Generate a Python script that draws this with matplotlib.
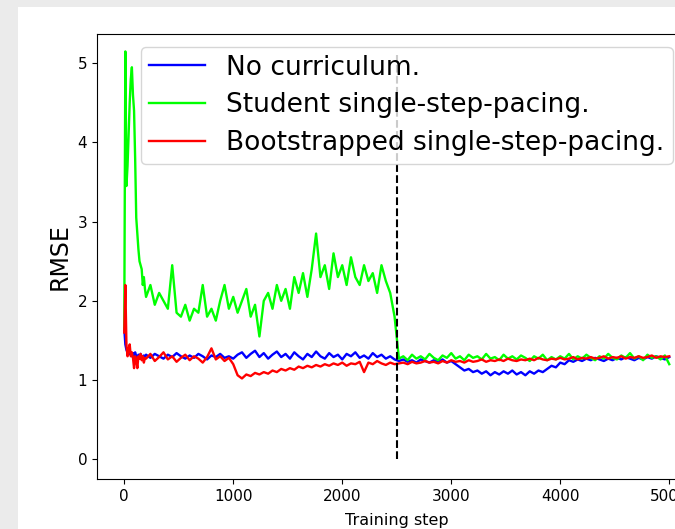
import matplotlib
matplotlib.use("Agg")
import matplotlib.pyplot as plt
import numpy as np
from matplotlib.patches import Rectangle

# training steps: fine grid for the initial spike, coarser afterwards
steps = np.concatenate([np.arange(0, 200, 10), np.arange(200, 5001, 40)])
switch_step = 2500
vline_top = 5.1

# --- No curriculum (blue) ---
blue_early = [1.65, 1.45, 1.38, 1.35, 1.33, 1.36, 1.32, 1.30, 1.34, 1.31,
              1.35, 1.30, 1.28, 1.32, 1.29, 1.33, 1.30, 1.27, 1.31, 1.29]
blue_mid = [1.32, 1.28, 1.33, 1.30, 1.27, 1.32, 1.29, 1.34, 1.30, 1.27,
            1.31, 1.28, 1.33, 1.30, 1.26, 1.31, 1.29, 1.33, 1.28, 1.30,
            1.27, 1.32, 1.35, 1.28, 1.33, 1.37, 1.29, 1.34, 1.27, 1.32,
            1.36, 1.29, 1.33, 1.27, 1.35, 1.30, 1.26, 1.33, 1.29, 1.36,
            1.30, 1.27, 1.34, 1.29, 1.32, 1.26, 1.33, 1.30, 1.35, 1.28,
            1.31, 1.27, 1.34, 1.29, 1.32, 1.27, 1.30, 1.26]
blue_late = [1.24, 1.26, 1.23, 1.25, 1.22, 1.26, 1.24, 1.22, 1.25, 1.23,
             1.26, 1.22, 1.24, 1.20, 1.16, 1.12, 1.14, 1.10, 1.12, 1.08,
             1.11, 1.06, 1.10, 1.07, 1.11, 1.08, 1.12, 1.07, 1.10, 1.06,
             1.11, 1.08, 1.12, 1.10, 1.14, 1.18, 1.16, 1.22, 1.20, 1.25,
             1.23, 1.26, 1.24, 1.27, 1.25, 1.28, 1.26, 1.24, 1.27, 1.25,
             1.28, 1.26, 1.29, 1.27, 1.25, 1.28, 1.26, 1.29, 1.27, 1.30,
             1.28, 1.26, 1.29]

# --- Student single-step-pacing (green) ---
green_early = [1.65, 5.15, 3.45, 3.70, 4.10, 4.50, 4.80, 4.95, 4.60, 4.40,
               3.80, 3.05, 2.85, 2.65, 2.50, 2.45, 2.40, 2.20, 2.30, 2.15]
green_mid = [2.05, 2.20, 1.95, 2.10, 2.00, 1.90, 2.45, 1.85, 1.80, 1.95,
             1.75, 1.90, 1.85, 2.20, 1.80, 1.90, 1.75, 2.00, 2.20, 1.90,
             2.05, 1.85, 2.00, 2.15, 1.80, 1.95, 1.55, 2.00, 2.10, 1.90,
             2.20, 2.00, 2.15, 1.90, 2.30, 2.10, 2.35, 2.05, 2.40, 2.85,
             2.30, 2.45, 2.15, 2.60, 2.30, 2.45, 2.20, 2.55, 2.30, 2.20,
             2.45, 2.25, 2.35, 2.10, 2.45, 2.25, 2.10, 1.80]
green_late = [1.27, 1.30, 1.25, 1.32, 1.27, 1.30, 1.26, 1.33, 1.28, 1.25,
              1.31, 1.28, 1.34, 1.27, 1.30, 1.25, 1.32, 1.28, 1.30, 1.26,
              1.33, 1.27, 1.29, 1.25, 1.32, 1.27, 1.30, 1.26, 1.31, 1.28,
              1.24, 1.30, 1.27, 1.32, 1.25, 1.29, 1.26, 1.30, 1.27, 1.33,
              1.26, 1.30, 1.27, 1.32, 1.28, 1.25, 1.30, 1.27, 1.33, 1.28,
              1.26, 1.31, 1.28, 1.34, 1.27, 1.30, 1.25, 1.32, 1.28, 1.30,
              1.26, 1.31, 1.20]

# --- Bootstrapped single-step-pacing (red) ---
red_early = [1.60, 2.20, 1.45, 1.30, 1.38, 1.45, 1.30, 1.35, 1.28, 1.15,
             1.30, 1.25, 1.15, 1.30, 1.27, 1.33, 1.25, 1.30, 1.22, 1.28]
red_mid = [1.27, 1.33, 1.24, 1.29, 1.35, 1.26, 1.30, 1.23, 1.28, 1.32,
           1.25, 1.30, 1.27, 1.22, 1.29, 1.40, 1.26, 1.30, 1.24, 1.28,
           1.20, 1.06, 1.02, 1.07, 1.05, 1.09, 1.07, 1.10, 1.08, 1.12,
           1.10, 1.14, 1.12, 1.15, 1.13, 1.17, 1.15, 1.18, 1.16, 1.19,
           1.17, 1.20, 1.18, 1.21, 1.19, 1.22, 1.18, 1.21, 1.20, 1.23,
           1.10, 1.22, 1.20, 1.24, 1.21, 1.19, 1.22, 1.20]
red_late = [1.21, 1.22, 1.20, 1.23, 1.21, 1.22, 1.24, 1.22, 1.23, 1.21,
            1.24, 1.22, 1.25, 1.23, 1.24, 1.22, 1.25, 1.23, 1.24, 1.26,
            1.23, 1.25, 1.24, 1.26, 1.24, 1.27, 1.25, 1.24, 1.26, 1.25,
            1.27, 1.25, 1.28, 1.26, 1.25, 1.27, 1.26, 1.28, 1.26, 1.27,
            1.29, 1.26, 1.28, 1.27, 1.29, 1.27, 1.28, 1.30, 1.27, 1.29,
            1.28, 1.30, 1.27, 1.29, 1.28, 1.30, 1.28, 1.29, 1.31, 1.28,
            1.30, 1.29, 1.30]

blue = blue_early + blue_mid + blue_late
green = green_early + green_mid + green_late
red = red_early + red_mid + red_late

W, H = 675, 529
fig = plt.figure(figsize=(W / 100, H / 100), dpi=100, facecolor="#ebebeb")
# white canvas of the notebook output cell
fig.patches.append(Rectangle((18 / W, 0), 1, 1 - 7 / H, transform=fig.transFigure,
                             facecolor="white", edgecolor="none", zorder=-10))

ax = fig.add_axes([97 / W, (H - 479) / H, (696.5 - 97) / W, (479 - 34) / H])
ax.set_zorder(5)
ax.plot(steps, blue, color="blue", lw=1.7, label="No curriculum.")
ax.plot(steps, green, color="lime", lw=1.7, label="Student single-step-pacing.")
ax.plot(steps, red, color="red", lw=1.7, label="Bootstrapped single-step-pacing.")
ax.vlines(switch_step, 0, vline_top, colors="black", linestyles="--", lw=1.5)

ax.set_xlim(-250, 5250)
ax.set_ylim(-0.25, 5.37)
ax.tick_params(labelsize=11)
ax.set_xlabel("Training step", fontsize=11.5, labelpad=7)
ax.set_ylabel("RMSE", fontsize=17)

ax.legend(loc="upper left", bbox_to_anchor=(140.7 / W, 1 - 46.7 / H),
          bbox_transform=fig.transFigure, borderaxespad=0, fontsize=19,
          labelspacing=0.45, handlelength=2.15, handletextpad=0.8,
          borderpad=0.3)

fig.savefig("out.png", dpi=100, facecolor=fig.get_facecolor())
